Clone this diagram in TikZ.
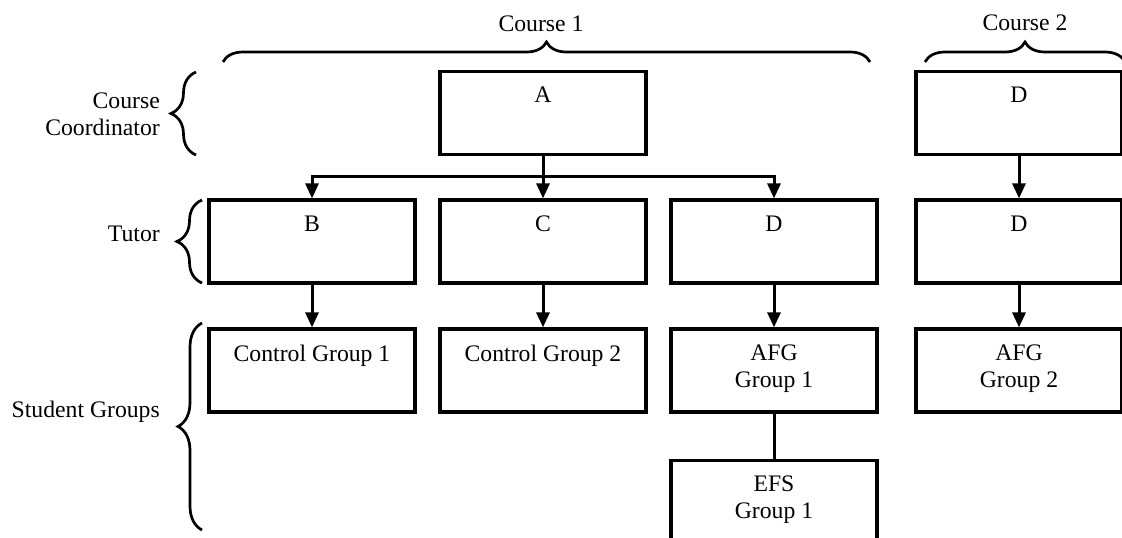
\documentclass[tikz,border=0pt]{standalone}
\usepackage{fontspec}
\setmainfont{Liberation Serif}
\usetikzlibrary{positioning, arrows.meta, decorations.pathreplacing}

\tikzset{
  unit/.style={draw, line width=3.2pt, minimum width=206pt, minimum height=83pt, inner sep=0pt},
  toptext/.style={below=17pt, inner sep=0pt, align=center},
  top text/.style={label={[toptext]north:{#1}}},
  link/.style={line width=3pt, -{Triangle[length=15pt, width=13pt]}},
  brace/.style={decorate, decoration={brace, amplitude=#1}, line width=2.7pt},
  side/.style={inner sep=0pt}
}

\begin{document}
\begin{tikzpicture}[x=1pt, y=-1pt, font=\fontsize{23.7}{27}\selectfont]
    \useasboundingbox (0,0) rectangle (1122,538);

    % course coordinators
    \node[unit, top text=A] (coordA) at (543,113) {};
    \node[unit, top text=D] (coordD) at (1019,113) {};

    % tutors
    \node[unit, top text=B] (tutB) at (312,241.5) {};
    \node[unit, top text=C] (tutC) at (543,241.5) {};
    \node[unit, top text=D] (tutD) at (774,241.5) {};
    \node[unit, top text=D] (tutE) at (1019,241.5) {};

    % student groups
    \node[unit, top text={Control Group 1}] (ctrl1) at (312,370.5) {};
    \node[unit, top text={Control Group 2}] (ctrl2) at (543,370.5) {};
    \node[unit, top text={AFG\\Group 1}] (afg1) at (774,370.5) {};
    \node[unit, top text={AFG\\Group 2}] (afg2) at (1019,370.5) {};
    \node[unit, top text={EFS\\Group 1}, below=45pt of afg1] (efs1) {};

    \path (coordA.south) ++(0,20) coordinate (split);
    \draw[link] (coordA.south) -- (tutC.north);
    \draw[link] (split) -| (tutB.north);
    \draw[link] (split) -| (tutD.north);
    \draw[link] (coordD) -- (tutE);

    \draw[link] (tutB) -- (ctrl1);
    \draw[link] (tutC) -- (ctrl2);
    \draw[link] (tutD) -- (afg1);
    \draw[link] (tutE) -- (afg2);
    \draw[line width=3pt] (afg1) -- (efs1);

    % braces and their labels
    \draw[brace=20pt] (223,62) -- (870,62);
    \draw[brace=20pt] (925,62) -- (1125,62);
    \node[anchor=base] (course1) at (541,31) {Course 1};
    \node[anchor=base] (course2) at (1025,30) {Course 2};

    \draw[brace=25pt] (196,155) -- (196,72);
    \draw[brace=25pt] (202,283) -- (202,200);
    \draw[brace=24pt] (202,530) -- (202,323);
    \node[side, anchor=east, align=right] (coordlbl) at (160,114) {Course\\Coordinator};
    \node[side, anchor=base east] (tutlbl) at (160,241) {Tutor};
    \node[side, anchor=base east] (stulbl) at (160,417) {Student Groups};
\end{tikzpicture}
\end{document}
